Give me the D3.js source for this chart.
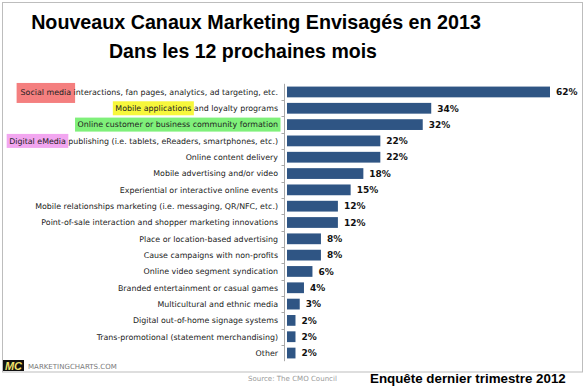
<!DOCTYPE html>
<html>
<head>
<meta charset="utf-8">
<script src="https://cdn.jsdelivr.net/npm/d3@7"></script>
<style>
  body { margin: 0; background: #fff; }
  svg { display: block; }
</style>
</head>
<body>
<div id="chart"></div>
<script>
// Chart data
const categories = [
  "Social media interactions, fan pages, analytics, ad targeting, etc.",
  "Mobile applications and loyalty programs",
  "Online customer or business community formation",
  "Digital eMedia publishing (i.e. tablets, eReaders, smartphones, etc.)",
  "Online content delivery",
  "Mobile advertising and/or video",
  "Experiential or interactive online events",
  "Mobile relationships marketing (i.e. messaging, QR/NFC, etc.)",
  "Point-of-sale interaction and shopper marketing innovations",
  "Place or location-based advertising",
  "Cause campaigns with non-profits",
  "Online video segment syndication",
  "Branded entertainment or casual games",
  "Multicultural and ethnic media",
  "Digital out-of-home signage systems",
  "Trans-promotional (statement merchandising)",
  "Other"
]
const values = [62, 34, 32, 22, 22, 18, 15, 12, 12, 8, 8, 6, 4, 3, 2, 2, 2]
const highlightWords = ["Social media", "Mobile applications", "Online customer or business community formation", "Digital eMedia"]
const titleLines = ["Nouveaux Canaux Marketing Envisagés en 2013", "Dans les 12 prochaines mois"]
const footNote = "Enquête dernier trimestre 2012"
const sourceText = "Source: The CMO Council"
const brandText = "MARKETINGCHARTS.COM"

const width = 586
const height = 387
const highlightColors = ["#f47f7f", "#f7f73c", "#7ff07a", "#f2a6f0"]

const svg = d3.select("#chart")
  .append("svg")
  .attr("width", width)
  .attr("height", height)

// size a text so it spans the wanted width
function fitText(sel, target) {
  const size = parseFloat(sel.style("font-size"))
  const w = sel.node().getComputedTextLength()
  sel.style("font-size", (size * target / w) + "px")
}

// Frame
svg.append("rect")
  .attr("x", 2.5).attr("y", 2.5)
  .attr("width", 580).attr("height", 369.5)
  .attr("fill", "none")
  .attr("stroke", "#bdbdbd")

// Titles
const t1 = svg.append("text")
  .attr("x", 256).attr("y", 29)
  .attr("text-anchor", "middle")
  .style("font-family", "Liberation Sans, Arial, sans-serif")
  .style("font-weight", "bold")
  .style("font-size", "19px")
  .text(titleLines[0])
fitText(t1, 450)

const t2 = svg.append("text")
  .attr("x", 243).attr("y", 58)
  .attr("text-anchor", "middle")
  .style("font-family", "Liberation Sans, Arial, sans-serif")
  .style("font-weight", "bold")
  .style("font-size", "19px")
  .text(titleLines[1])
fitText(t2, 268)

// Scales
const xScale = d3.scaleLinear()
  .domain([0, 62])
  .range([287, 550])

const yScale = d3.scaleBand()
  .domain(categories)
  .range([83.8, 361.2])
  .paddingInner(0.34)
  .paddingOuter(0.17)

// Axis line with ticks between rows
const axisX = 284.5
svg.append("line")
  .attr("x1", axisX).attr("x2", axisX)
  .attr("y1", yScale.range()[0]).attr("y2", yScale.range()[1])
  .attr("stroke", "#a8a8a8")

const gap = yScale.step() * yScale.paddingInner() / 2
svg.selectAll(".tick")
  .data(categories.slice(1))
  .enter()
  .append("line")
  .attr("class", "tick")
  .attr("x1", axisX - 3).attr("x2", axisX)
  .attr("y1", d => Math.round(yScale(d) - gap) + 0.5)
  .attr("y2", d => Math.round(yScale(d) - gap) + 0.5)
  .attr("stroke", "#a8a8a8")

// Bars
svg.selectAll(".bar")
  .data(values)
  .enter()
  .append("rect")
  .attr("class", "bar")
  .attr("x", xScale(0))
  .attr("y", (d, i) => yScale(categories[i]))
  .attr("width", d => xScale(d) - xScale(0))
  .attr("height", yScale.bandwidth())
  .attr("fill", "#2f5584")

// Value labels
svg.selectAll(".val")
  .data(values)
  .enter()
  .append("text")
  .attr("class", "val")
  .attr("x", d => xScale(d) + 6)
  .attr("y", (d, i) => yScale(categories[i]) + yScale.bandwidth() / 2)
  .attr("dy", "0.36em")
  .style("font-family", "DejaVu Sans, Verdana, sans-serif")
  .style("font-weight", "bold")
  .style("font-size", "9px")
  .style("fill", "#111")
  .text(d => d + "%")

// Highlight layer sits under the category labels
const hlLayer = svg.append("g")

// Category labels
const labels = svg.selectAll(".cat")
  .data(categories)
  .enter()
  .append("text")
  .attr("class", "cat")
  .attr("x", 278)
  .attr("y", d => yScale(d) + yScale.bandwidth() / 2)
  .attr("dy", "0.36em")
  .attr("text-anchor", "end")
  .style("font-family", "DejaVu Sans, Verdana, sans-serif")
  .style("font-size", "8px")
  .style("fill", "#222")
  .text(d => d)

// make the longest label match its width, then use the same size for all
const first = labels.filter((d, i) => i == 0)
fitText(first, 258)
labels.style("font-size", first.style("font-size"))

// Coloured boxes behind the first words
highlightWords.forEach((word, i) => {
  const node = labels.nodes()[i]
  const total = node.getComputedTextLength()
  const wWidth = node.getSubStringLength(0, word.length)
  const start = 278 - total
  const cy = yScale(categories[i]) + yScale.bandwidth() / 2
  const padX = i == 0 ? 4 : 2.5
  const h = i == 0 ? 20 : 14
  hlLayer.append("rect")
    .attr("x", start - padX)
    .attr("y", cy - h / 2 + (i == 0 ? 1 : 0))
    .attr("width", wWidth + padX * 2)
    .attr("height", h)
    .attr("fill", highlightColors[i])
})

// Footer: logo, brand, source
svg.append("rect")
  .attr("x", 3).attr("y", 360)
  .attr("width", 21).attr("height", 11)
  .attr("fill", "#111")
svg.append("text")
  .attr("x", 13.5).attr("y", 369.5)
  .attr("text-anchor", "middle")
  .style("font-family", "Liberation Sans, Arial, sans-serif")
  .style("font-weight", "bold")
  .style("font-style", "italic")
  .style("font-size", "11px")
  .style("fill", "#f2e36a")
  .text("MC")

const brand = svg.append("text")
  .attr("x", 28).attr("y", 369)
  .style("font-family", "DejaVu Sans, Verdana, sans-serif")
  .style("font-size", "8px")
  .style("fill", "#7a7a7a")
  .text(brandText)
fitText(brand, 89)

const src = svg.append("text")
  .attr("x", 248).attr("y", 381)
  .style("font-family", "DejaVu Sans, Verdana, sans-serif")
  .style("font-size", "7.5px")
  .style("fill", "#9a9a9a")
  .text(sourceText)
fitText(src, 89)

const foot = svg.append("text")
  .attr("x", 370).attr("y", 383)
  .style("font-family", "Liberation Sans, Arial, sans-serif")
  .style("font-weight", "bold")
  .style("font-size", "14px")
  .style("fill", "#000")
  .text(footNote)
fitText(foot, 196)
</script>
</body>
</html>
